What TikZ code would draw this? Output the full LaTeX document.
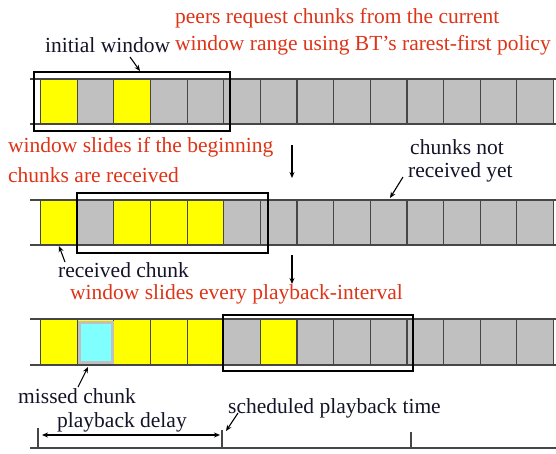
\documentclass[tikz,border=0pt]{standalone}
\usepackage{fontspec}
\setmainfont{Liberation Serif}
\usetikzlibrary{arrows.meta}
\definecolor{redtxt}{RGB}{222,52,24}
\definecolor{inktxt}{RGB}{20,20,40}
\definecolor{cellgray}{RGB}{192,192,192}
\definecolor{cellyel}{RGB}{255,255,0}
\definecolor{cellcyan}{RGB}{128,255,255}
\definecolor{edgegray}{RGB}{70,70,70}
\tikzset{
  cellbox/.style={rectangle,draw=edgegray,line width=1.1pt,inner sep=0pt,
    minimum width=36.64pt,minimum height=45pt,anchor=north west,fill=cellgray},
  yel/.style={fill=cellyel},
  stripline/.style={draw=edgegray,line width=1.4pt},
  winbox/.style={draw=black,line width=1.5pt},
  redlabel/.style={text=redtxt,font=\fontsize{21.5}{24}\selectfont,inner sep=0pt,anchor=west},
  inklabel/.style={text=inktxt,font=\fontsize{21.5}{24}\selectfont,inner sep=0pt,anchor=west},
  pointer/.style={draw=black,line width=1.1pt,-{Stealth[length=6pt,width=5pt]}},
}
\begin{document}
\begin{tikzpicture}[x=1pt,y=-1pt]
\useasboundingbox[fill=white] (0,0) rectangle (556,453);
% ---- row 1 ----
\foreach \i in {1,...,14}{
  \pgfmathsetmacro\xx{40+(\i-1)*36.64}
  \ifnum\i=1 \node[cellbox,yel] (a\i) at (\xx,79) {};
  \else\ifnum\i=3 \node[cellbox,yel] (a\i) at (\xx,79) {};
  \else \node[cellbox] (a\i) at (\xx,79) {};
  \fi\fi
}
\draw[stripline] (30,79) -- (556,79) (30,124) -- (556,124);
\node[winbox,rectangle,inner sep=0pt,minimum width=196pt,minimum height=59pt,anchor=north west] (w1) at (33,71) {};
% ---- row 2 ----
\foreach \i in {1,...,14}{
  \pgfmathsetmacro\xx{40+(\i-1)*36.64}
  \ifnum\i=1 \node[cellbox,yel] (b\i) at (\xx,200) {};
  \else\ifnum\i>2 \ifnum\i<6 \node[cellbox,yel] (b\i) at (\xx,200) {};
    \else \node[cellbox] (b\i) at (\xx,200) {}; \fi
  \else \node[cellbox] (b\i) at (\xx,200) {};
  \fi\fi
}
\draw[stripline] (30,200) -- (556,200) (30,245) -- (556,245);
\node[winbox,rectangle,inner sep=0pt,minimum width=191pt,minimum height=60pt,anchor=north west] (w2) at (76,192) {};
% ---- row 3 ----
\foreach \i in {1,...,14}{
  \pgfmathsetmacro\xx{40+(\i-1)*36.64}
  \ifnum\i<6 \node[cellbox,yel] (c\i) at (\xx,319) {};
  \else\ifnum\i=7 \node[cellbox,yel] (c\i) at (\xx,319) {};
  \else \node[cellbox] (c\i) at (\xx,319) {};
  \fi\fi
}
\node[rectangle,fill=cellcyan,draw=cellgray,line width=3pt,inner sep=0pt,
  minimum width=33pt,minimum height=40pt] (miss) at (c2.center) {};
\draw[stripline] (30,319) -- (556,319) (30,365) -- (556,365);
\node[winbox,rectangle,inner sep=0pt,minimum width=190pt,minimum height=56pt,anchor=north west] (w3) at (222,314) {};
% ---- labels ----
\node[redlabel] (t1) at (175,18) {peers request chunks from the current};
\node[redlabel] (t2) at (175,45) {window range using BT’s rarest-first policy};
\node[inklabel] (iw) at (45,45) {initial window};
\node[redlabel] (t3) at (8,147) {window slides if the beginning};
\node[redlabel] (t4) at (8,175) {chunks are received};
\node[inklabel] (cn1) at (410,147) {chunks not};
\node[inklabel] (cn2) at (408,172) {received yet};
\node[inklabel] (rc) at (58,270) {received chunk};
\node[redlabel] (t5) at (70,294) {window slides every playback-interval};
\node[inklabel] (mc) at (18,396) {missed chunk};
\node[inklabel] (pd) at (57,422) {playback delay};
\node[inklabel] (sp) at (228,408) {scheduled playback time};
% ---- pointers ----
\coordinate (iwA) at (130,57); \coordinate (iwB) at (140,71);
\draw[pointer] (iwA) -- (iwB);
\coordinate (cnA) at (403,177); \coordinate (cnB) at (390,198);
\draw[pointer] (cnA) -- (cnB);
\coordinate (rcA) at (65,262); \coordinate (rcB) at (59,246);
\draw[pointer] (rcA) -- (rcB);
\coordinate (mcA) at (78,387); \coordinate (mcB) at (88,367);
\draw[pointer] (mcA) -- (mcB);
\coordinate (spA) at (238,413); \coordinate (spB) at (226,431);
\draw[pointer] (spA) -- (spB);
\coordinate (v1A) at (292,145); \coordinate (v1B) at (292,178);
\draw[pointer] (v1A) -- (v1B);
\coordinate (v2A) at (292,255); \coordinate (v2B) at (292,284);
\draw[pointer] (v2A) -- (v2B);
% ---- time axis ----
\coordinate (axL) at (30,448); \coordinate (axR) at (556,448);
\draw[stripline] (axL) -- (axR);
\coordinate (k1a) at (38,428); \coordinate (k1b) at (38,448);
\coordinate (k2a) at (222,430); \coordinate (k2b) at (222,448);
\coordinate (k3a) at (411,432); \coordinate (k3b) at (411,448);
\draw[draw=edgegray,line width=1.1pt] (k1a) -- (k1b) (k2a) -- (k2b) (k3a) -- (k3b);
\coordinate (pdL) at (42,435); \coordinate (pdR) at (220,435);
\draw[draw=black,line width=1.1pt,{Stealth[length=6pt,width=5pt]}-{Stealth[length=6pt,width=5pt]}] (pdL) -- (pdR);
\end{tikzpicture}
\end{document}
